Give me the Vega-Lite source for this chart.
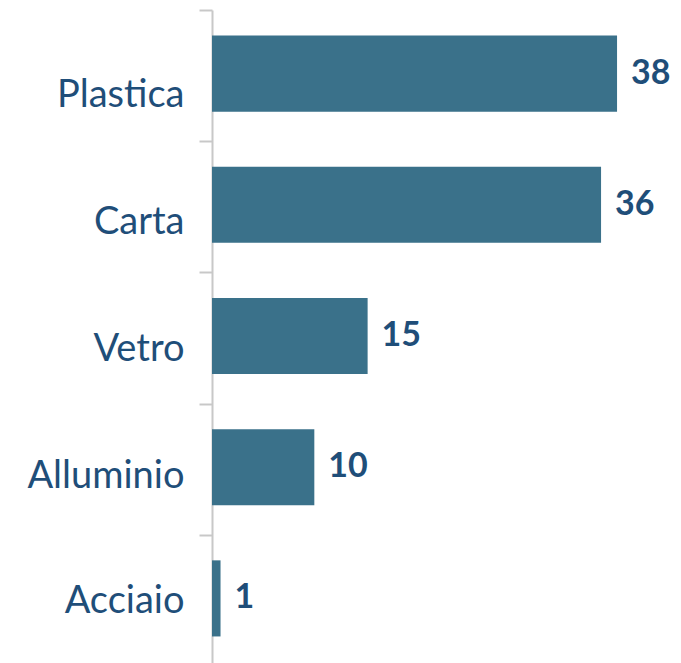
{
  "$schema": "https://vega.github.io/schema/vega-lite/v6.json",
  "autosize": {"type": "none"},
  "padding": {"left": 212, "top": 10, "right": 0, "bottom": 0},
  "width": 469,
  "height": 656,
  "background": "#ffffff",
  "config": {"view": {"stroke": null}},
  "data": {
    "values": [
      {"materiale": "Plastica", "valore": 38.0, "etichetta": "38"},
      {"materiale": "Carta", "valore": 36.5, "etichetta": "36"},
      {"materiale": "Vetro", "valore": 14.6, "etichetta": "15"},
      {"materiale": "Alluminio", "valore": 9.6, "etichetta": "10"},
      {"materiale": "Acciaio", "valore": 0.8, "etichetta": "1"}
    ]
  },
  "encoding": {
    "y": {
      "field": "materiale",
      "type": "nominal",
      "sort": null,
      "scale": {"paddingInner": 0, "paddingOuter": 0},
      "axis": {
        "title": null,
        "tickBand": "extent",
        "domainColor": "#c8c8c8",
        "domainWidth": 2,
        "tickColor": "#c8c8c8",
        "tickWidth": 2,
        "tickSize": 13,
        "labelPadding": 15,
        "labelFont": "Lato",
        "labelFontSize": 38,
        "labelColor": "#1f4e79",
        "labelFontWeight": "normal",
        "labelOffset": {"expr": "datum.value === 'Plastica' ? 20 : datum.value === 'Carta' ? 15.5 : datum.value === 'Vetro' ? 11 : datum.value === 'Alluminio' ? 7 : 1.5"}
      }
    },
    "x": {
      "field": "valore",
      "type": "quantitative",
      "scale": {"domain": [0, 44], "nice": false},
      "axis": null
    }
  },
  "layer": [
    {"mark": {"type": "bar", "color": "#3a718a", "height": {"band": 0.58}, "yOffset": -2}},
    {
      "mark": {"type": "text", "align": "left", "baseline": "middle", "dx": 14, "dy": -2, "font": "Lato", "fontSize": 34, "fontWeight": "bold", "color": "#1f4e79"},
      "encoding": {"text": {"field": "etichetta"}}
    }
  ]
}
